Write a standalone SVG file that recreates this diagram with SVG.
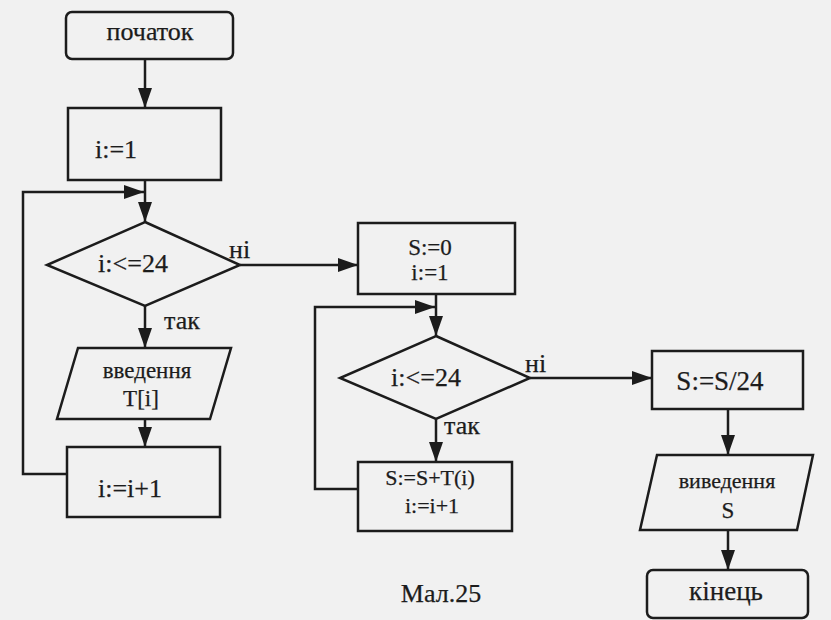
<svg xmlns="http://www.w3.org/2000/svg" width="831" height="620" viewBox="0 0 831 620">
<defs>
<marker id="ah" markerUnits="userSpaceOnUse" markerWidth="20" markerHeight="14" refX="20" refY="7" orient="auto">
<path d="M0,0 L20,7 L0,14 Z" fill="#1c1c1c"/>
</marker>
<style>
.s{fill:none;stroke:#1c1c1c;stroke-width:2.5}
.a{fill:none;stroke:#1c1c1c;stroke-width:2.5;marker-end:url(#ah)}
text{font-family:"Liberation Serif","Times New Roman",serif;fill:#1c1c1c;stroke:#1c1c1c;stroke-width:0.25}
.m{text-anchor:middle}
</style>
</defs>
<rect width="831" height="620" fill="#f1f1f1"/>
<g id="connectors">
<line class="a" x1="145" y1="59" x2="145" y2="108"/>
<line class="a" x1="145" y1="180" x2="145" y2="222"/>
<polyline class="a" points="67,474 23,474 23,192 144,192"/>
<line class="a" x1="240" y1="265" x2="358" y2="265"/>
<line class="a" x1="145" y1="306" x2="145" y2="348"/>
<line class="a" x1="145" y1="419" x2="145" y2="447"/>
<line class="a" x1="436" y1="294" x2="436" y2="336"/>
<polyline class="a" points="358,489 315,489 315,307 435,307"/>
<line class="a" x1="530" y1="378" x2="652" y2="378"/>
<line class="a" x1="436" y1="419" x2="436" y2="462"/>
<line class="a" x1="728" y1="409" x2="728" y2="455"/>
<line class="a" x1="728" y1="530" x2="728" y2="570"/>
<text x="229" y="258" font-size="26">ні</text>
<text x="164" y="329" font-size="26">так</text>
<text x="525" y="372" font-size="26">ні</text>
<text x="444" y="434" font-size="26">так</text>
</g>
<g id="start">
<rect class="s" x="66" y="12" width="167" height="47" rx="6"/>
<text class="m" x="150" y="40" font-size="26">початок</text>
</g>
<g id="init1">
<rect class="s" x="68" y="108" width="153" height="72"/>
<text class="m" x="116" y="158" font-size="26">i:=1</text>
</g>
<g id="cond1">
<polygon class="s" points="145,222 240,265 145,306 47,265"/>
<text class="m" x="133" y="272" font-size="26">i:&lt;=24</text>
</g>
<g id="input">
<polygon class="s" points="78,348 231,348 210,419 57,419"/>
<text class="m" x="147" y="378" font-size="23">введення</text>
<text class="m" x="141" y="406" font-size="23">T[i]</text>
</g>
<g id="inc1">
<rect class="s" x="67" y="447" width="153" height="70"/>
<text class="m" x="130" y="497" font-size="26">i:=i+1</text>
</g>
<g id="init2">
<rect class="s" x="358" y="223" width="157" height="71"/>
<text class="m" x="430" y="255" font-size="23">S:=0</text>
<text class="m" x="430" y="280" font-size="23">i:=1</text>
</g>
<g id="cond2">
<polygon class="s" points="436,336 530,378 436,419 340,378"/>
<text class="m" x="426" y="386" font-size="26">i:&lt;=24</text>
</g>
<g id="sum">
<rect class="s" x="358" y="462" width="154" height="69"/>
<text class="m" x="430" y="485" font-size="22">S:=S+T(i)</text>
<text class="m" x="432" y="513" font-size="22">i:=i+1</text>
</g>
<g id="avg">
<rect class="s" x="652" y="351" width="151" height="58"/>
<text class="m" x="720" y="390" font-size="27">S:=S/24</text>
</g>
<g id="output">
<polygon class="s" points="657,455 813,455 797,530 640,530"/>
<text class="m" x="727" y="488" font-size="22">виведення</text>
<text class="m" x="728" y="518" font-size="23">S</text>
</g>
<g id="end">
<rect class="s" x="647" y="570" width="161" height="48" rx="6"/>
<text class="m" x="726" y="600" font-size="27">кінець</text>
</g>
<g id="caption">
<text class="m" x="441" y="602" font-size="26">Мал.25</text>
</g>
</svg>
